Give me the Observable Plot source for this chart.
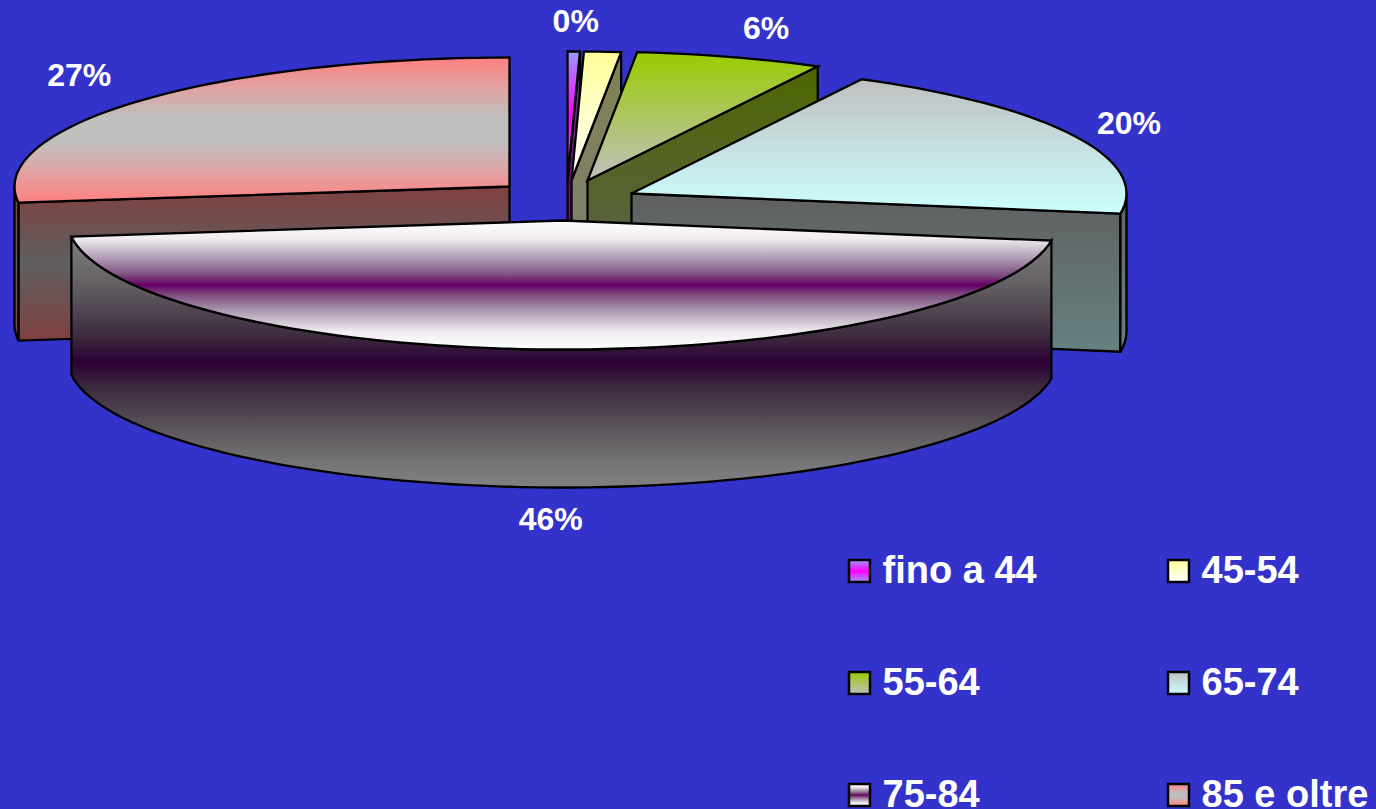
<!DOCTYPE html>
<html>
<head>
<meta charset="utf-8">
<script src="https://cdn.jsdelivr.net/npm/d3@7"></script>
<script src="https://cdn.jsdelivr.net/npm/@observablehq/plot@0.6"></script>
<style>
html,body{margin:0;padding:0;background:#3333cc;overflow:hidden}
svg{display:block}
</style>
</head>
<body>
<div id="chart"></div>
<script>
// Data
const categories = ["fino a 44", "45-54", "55-64", "65-74", "75-84", "85 e oltre"];
const shares = [0.4, 1.2, 6.1, 19.8, 45.5, 27.0];
const shareLabels = ["0%", "", "6%", "20%", "46%", "27%"];

// Colours: [offset, colour] stops, top to bottom
const topStops = [
  [[0, "#9999ff"], [0.5, "#ff00ff"], [1, "#9999ff"]],
  [[0, "#ffff99"], [1, "#ffffff"]],
  [[0, "#99cc00"], [1, "#c0c0c0"]],
  [[0, "#c0c0c0"], [1, "#ccffff"]],
  [[0, "#ffffff"], [0.14, "#f0ecf0"], [0.3, "#ac98b0"], [0.42, "#7f4f80"], [0.5, "#660066"], [0.58, "#7f4f80"], [0.7, "#ac98b0"], [0.86, "#f0ecf0"], [1, "#ffffff"]],
  [[0, "#ff8080"], [0.22, "#e0a4a4"], [0.42, "#bfbfbf"], [0.58, "#bfbfbf"], [0.78, "#e0a4a4"], [1, "#ff8080"]]
];
const wallStops = [
  [[0, "#4d4d80"], [0.5, "#800080"], [1, "#4d4d80"]],
  [[0, "#808050"], [1, "#808080"]],
  [[0, "#4d6600"], [1, "#606060"]],
  [[0, "#606060"], [1, "#668080"]],
  [[0, "#808080"], [0.2, "#625e62"], [0.4, "#3c2a3e"], [0.5, "#2b0033"], [0.6, "#3c2a3e"], [0.8, "#625e62"], [0.92, "#787878"], [1, "#808080"]],
  [[0, "#804040"], [0.5, "#5f5f5f"], [1, "#804040"]]
];
const background = "#3333cc";

// Layout of the exploded 3D pie
const W = 1376, H = 809;
const center = [567, 199];
const radiusX = 495, radiusY = 129, depth = 138;
const sliceShift = [[0, -19], [4, -19], [20, -19], [64, -6], [-5, 21], [-58, -13]];
const labelNudge = [[2, -30], null, [36, -28], [55, -12], [-4, 32], [-59, -25]];
const drawOrder = [0, 1, 2, 3, 5, 4];

const total = d3.sum(shares);
const cumulative = d3.cumsum(shares);
const slices = categories.map((name, i) => {
  const a0 = ((i ? cumulative[i - 1] : 0) / total) * 360;
  const a1 = (cumulative[i] / total) * 360;
  const ax = center[0] + sliceShift[i][0];
  const ay = center[1] + sliceShift[i][1];
  return {name, i, a0, a1, ax, ay};
});
const rad = (d) => (d * Math.PI) / 180;
const rimPoint = (s, a, drop = 0) => ({
  x: s.ax + radiusX * Math.sin(rad(a)),
  y: s.ay - radiusY * Math.cos(rad(a)) + drop
});
const rimArc = (s, a0, a1, drop = 0) => {
  const steps = Math.max(2, Math.ceil(Math.abs(a1 - a0) / 2));
  return d3.range(steps + 1).map((k) => rimPoint(s, a0 + ((a1 - a0) * k) / steps, drop));
};

function facesOf(s) {
  const apex = {x: s.ax, y: s.ay};
  const apexLow = {x: s.ax, y: s.ay + depth};
  const faces = [];
  const wall = `url(#wall${s.i})`;
  // radial cut faces that look at the viewer
  if (s.a1 < 180) {
    const e = rimPoint(s, s.a1), el = rimPoint(s, s.a1, depth);
    faces.push({pts: [apex, e, el, apexLow], fill: wall});
  }
  if (s.a0 > 180) {
    const e = rimPoint(s, s.a0), el = rimPoint(s, s.a0, depth);
    faces.push({pts: [apex, e, el, apexLow], fill: wall});
  }
  // outer wall on the near half of the ellipse
  const w0 = Math.max(s.a0, 90), w1 = Math.min(s.a1, 270);
  if (w1 > w0) {
    faces.push({pts: [...rimArc(s, w0, w1), ...rimArc(s, w1, w0, depth)], fill: wall});
  }
  // top face
  faces.push({pts: [apex, ...rimArc(s, s.a0, s.a1)], fill: `url(#top${s.i})`});
  return faces;
}

const faces = drawOrder.flatMap((i) => facesOf(slices[i]));

// Gradients live inside the plot as a render mark
const gradientDefs = () => {
  const defs = d3.create("svg:defs");
  const add = (id, stops) => {
    const g = defs.append("linearGradient").attr("id", id)
      .attr("x1", 0).attr("x2", 0).attr("y1", 0).attr("y2", 1);
    stops.forEach(([o, c]) => g.append("stop").attr("offset", o).attr("stop-color", c));
  };
  topStops.forEach((s, i) => add(`top${i}`, s));
  wallStops.forEach((s, i) => add(`wall${i}`, s));
  return defs.node();
};

const labelRows = slices
  .filter((s) => shareLabels[s.i])
  .map((s) => {
    const mid = (s.a0 + s.a1) / 2;
    const nearSide = mid > 90 && mid < 270;
    const p = rimPoint(s, mid, nearSide ? depth : 0);
    return {x: p.x + labelNudge[s.i][0], y: p.y + labelNudge[s.i][1], text: shareLabels[s.i]};
  });

// Legend layout
const legendCols = [848, 1167], legendRowStart = 571, legendRowStep = 112, swatch = 22, legendGap = 12;
const legendRows = categories.map((name, i) => ({
  name, i,
  x: legendCols[i % 2],
  y: legendRowStart + Math.floor(i / 2) * legendRowStep
}));

const font = "'Liberation Sans', Arial, sans-serif";

const chart = Plot.plot({
  width: W,
  height: H,
  margin: 0,
  style: {background, fontFamily: font},
  x: {domain: [0, W], range: [0, W], axis: null},
  y: {domain: [0, H], range: [0, H], axis: null},
  marks: [
    gradientDefs,
    ...faces.map((f) =>
      Plot.line(f.pts, {
        x: "x", y: "y", curve: "linear-closed",
        fill: f.fill, stroke: "#000", strokeWidth: 2.3, strokeLinejoin: "miter", strokeMiterlimit: 4
      })
    ),
    Plot.text(labelRows, {
      x: "x", y: "y", text: "text",
      fill: "#fff", fontSize: 32, fontWeight: "bold", fontFamily: font
    }),
    ...legendRows.map((d) =>
      Plot.rect([d], {
        x1: (r) => r.x + 1, x2: (r) => r.x + swatch,
        y1: (r) => r.y - swatch / 2, y2: (r) => r.y + swatch / 2,
        fill: `url(#top${d.i})`, stroke: "#000", strokeWidth: 2.5
      })
    ),
    Plot.text(legendRows, {
      x: (r) => r.x + swatch + legendGap, y: (r) => r.y - 1, text: "name",
      textAnchor: "start", fill: "#fff", fontSize: 38, fontWeight: "bold", fontFamily: font
    })
  ]
});
document.getElementById("chart").append(chart);
</script>
</body>
</html>
